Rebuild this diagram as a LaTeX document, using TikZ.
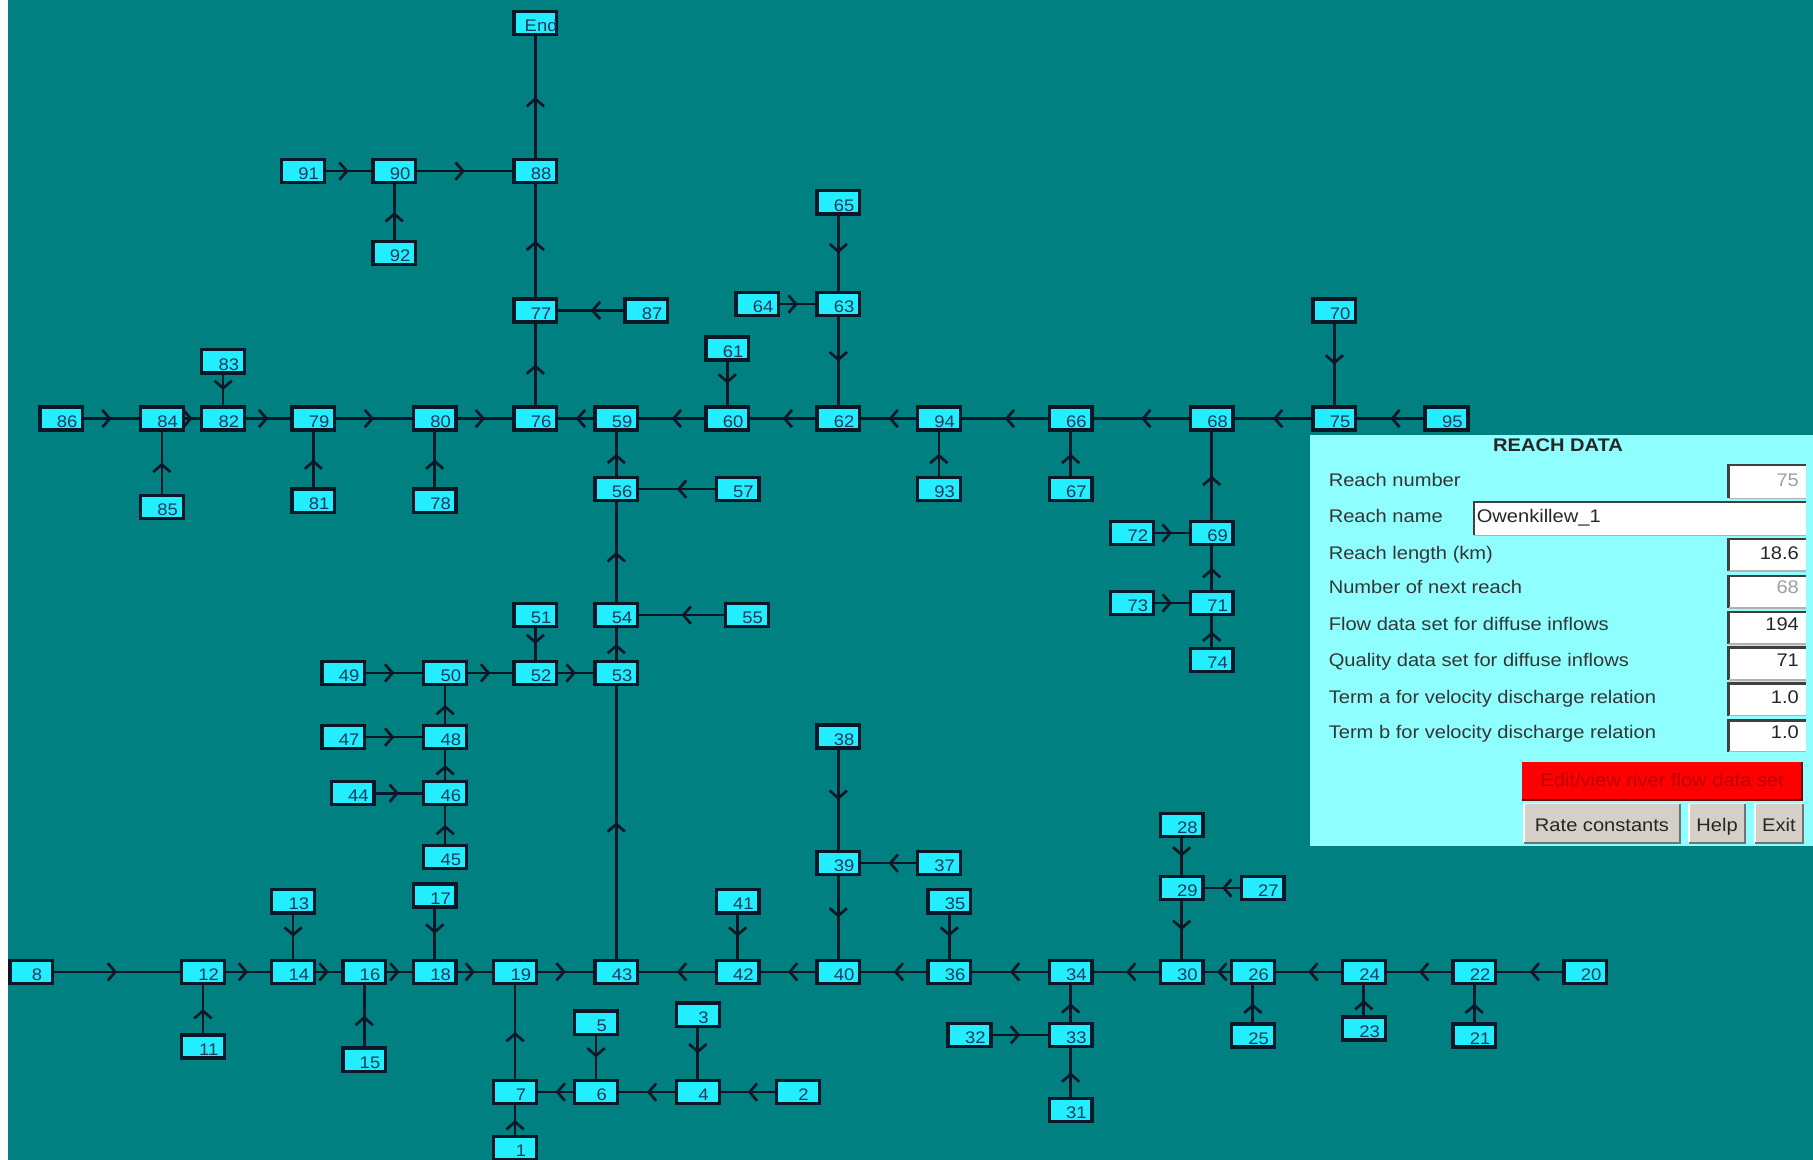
\documentclass[tikz,border=0pt]{standalone}
\usepackage{fontspec}
\setmainfont{Liberation Sans}
\newfontfamily\uif[FakeStretch=1.1]{Liberation Sans}
\usetikzlibrary{arrows.meta,decorations.markings}
\definecolor{bgc}{HTML}{008080}
\definecolor{boxc}{HTML}{22EEFF}
\definecolor{edgec}{HTML}{0B1626}
\definecolor{numc}{HTML}{1E3A5A}
\definecolor{panelc}{HTML}{8EFEFE}
\definecolor{lblc}{HTML}{353535}
\definecolor{disc}{HTML}{A0A0A0}
\definecolor{btnc}{HTML}{D4D0C8}
\definecolor{redtc}{HTML}{B80000}
\newcommand\nlab[1]{\makebox[0pt]{\hspace*{10pt}#1}}
\begin{document}
\begin{tikzpicture}[x=1pt,y=-1pt,
  rb/.style={draw=edgec, fill=boxc, line width=2.9pt, minimum width=37pt, minimum height=20pt,
    inner sep=0pt, text height=15pt, text depth=0pt,
    font={\uif\fontsize{14.5}{16}\selectfont}, text=numc},
  flow/.style={draw=edgec, line width=2.3pt, postaction={decorate},
    decoration={markings, mark=at position 0.5 with {\arrow{Straight Barb[length=6.5pt,width=15pt,line width=2.3pt]}}}},
  lbl/.style={anchor=base west, inner sep=0pt, text=lblc, font={\uif\fontsize{15.8}{18}\selectfont}},
  val/.style={anchor=base east, inner sep=0pt, text=black!85, font={\uif\fontsize{15.8}{18}\selectfont}},
  btxt/.style={anchor=base, inner sep=0pt, text=black!85, font={\uif\fontsize{15.8}{18}\selectfont}},
]
\useasboundingbox (0,0) rectangle (1568,1003);
\fill[bgc] (0,0) rectangle (1568,1003);
\fill[white] (0,0) rectangle (7,1003);

% ---------- nodes ----------
\node[rb] (nEnd) at (463,20) {\nlab{End}};
\node[rb] (n88) at (463,148) {\nlab{88}};
\node[rb] (n91) at (262,148) {\nlab{91}};
\node[rb] (n90) at (341,148) {\nlab{90}};
\node[rb] (n92) at (341,219) {\nlab{92}};
\node[rb] (n77) at (463,268.5) {\nlab{77}};
\node[rb] (n87) at (559,268.5) {\nlab{87}};
\node[rb] (n65) at (725,175) {\nlab{65}};
\node[rb] (n63) at (725,263) {\nlab{63}};
\node[rb] (n64) at (655,263) {\nlab{64}};
\node[rb] (n61) at (629,301.5) {\nlab{61}};
\node[rb] (n83) at (193,312.5) {\nlab{83}};
\node[rb] (n70) at (1154,268.5) {\nlab{70}};
% main row
\node[rb] (n86) at (53,362) {\nlab{86}};
\node[rb] (n84) at (140,362) {\nlab{84}};
\node[rb] (n82) at (193,362) {\nlab{82}};
\node[rb] (n79) at (271,362) {\nlab{79}};
\node[rb] (n80) at (376,362) {\nlab{80}};
\node[rb] (n76) at (463,362) {\nlab{76}};
\node[rb] (n59) at (533,362) {\nlab{59}};
\node[rb] (n60) at (629,362) {\nlab{60}};
\node[rb] (n62) at (725,362) {\nlab{62}};
\node[rb] (n94) at (812,362) {\nlab{94}};
\node[rb] (n66) at (926,362) {\nlab{66}};
\node[rb] (n68) at (1048,362) {\nlab{68}};
\node[rb] (n75) at (1154,362) {\nlab{75}};
\node[rb] (n95) at (1251,362) {\nlab{95}};
% below main row
\node[rb] (n85) at (140,438.5) {\nlab{85}};
\node[rb] (n81) at (271,433) {\nlab{81}};
\node[rb] (n78) at (376,433) {\nlab{78}};
\node[rb] (n56) at (533,423) {\nlab{56}};
\node[rb] (n57) at (638,423) {\nlab{57}};
\node[rb] (n93) at (812,423) {\nlab{93}};
\node[rb] (n67) at (926,423) {\nlab{67}};
\node[rb] (n72) at (979,461) {\nlab{72}};
\node[rb] (n69) at (1048,461) {\nlab{69}};
\node[rb] (n73) at (979,521.5) {\nlab{73}};
\node[rb] (n71) at (1048,521.5) {\nlab{71}};
\node[rb] (n74) at (1048,571) {\nlab{74}};
\node[rb] (n51) at (463,532) {\nlab{51}};
\node[rb] (n54) at (533,532) {\nlab{54}};
\node[rb] (n55) at (646,532) {\nlab{55}};
\node[rb] (n49) at (297,582) {\nlab{49}};
\node[rb] (n50) at (385,582) {\nlab{50}};
\node[rb] (n52) at (463,582) {\nlab{52}};
\node[rb] (n53) at (533,582) {\nlab{53}};
\node[rb] (n47) at (297,637.5) {\nlab{47}};
\node[rb] (n48) at (385,637.5) {\nlab{48}};
\node[rb] (n44) at (305,686) {\nlab{44}};
\node[rb] (n46) at (385,686) {\nlab{46}};
\node[rb] (n45) at (385,741) {\nlab{45}};
\node[rb] (n38) at (725,637) {\nlab{38}};
\node[rb] (n39) at (725,746.5) {\nlab{39}};
\node[rb] (n37) at (812,746.5) {\nlab{37}};
\node[rb] (n28) at (1022,713.5) {\nlab{28}};
\node[rb] (n29) at (1022,768) {\nlab{29}};
\node[rb] (n27) at (1092,768) {\nlab{27}};
\node[rb] (n13) at (253.5,779.5) {\nlab{13}};
\node[rb] (n17) at (376,774.5) {\nlab{17}};
\node[rb] (n41) at (638,779.5) {\nlab{41}};
\node[rb] (n35) at (821,779.5) {\nlab{35}};
% bottom row
\node[rb] (n8) at (27,840.5) {\nlab{8}};
\node[rb] (n12) at (175.5,840.5) {\nlab{12}};
\node[rb] (n14) at (253.5,840.5) {\nlab{14}};
\node[rb] (n16) at (315,840.5) {\nlab{16}};
\node[rb] (n18) at (376,840.5) {\nlab{18}};
\node[rb] (n19) at (445.5,840.5) {\nlab{19}};
\node[rb] (n43) at (533,840.5) {\nlab{43}};
\node[rb] (n42) at (638,840.5) {\nlab{42}};
\node[rb] (n40) at (725,840.5) {\nlab{40}};
\node[rb] (n36) at (821,840.5) {\nlab{36}};
\node[rb] (n34) at (926,840.5) {\nlab{34}};
\node[rb] (n30) at (1022,840.5) {\nlab{30}};
\node[rb] (n26) at (1083.5,840.5) {\nlab{26}};
\node[rb] (n24) at (1179.5,840.5) {\nlab{24}};
\node[rb] (n22) at (1275,840.5) {\nlab{22}};
\node[rb] (n20) at (1371,840.5) {\nlab{20}};
% below bottom row
\node[rb] (n11) at (175.5,905) {\nlab{11}};
\node[rb] (n15) at (315,916.5) {\nlab{15}};
\node[rb] (n5) at (515.5,884.5) {\nlab{5}};
\node[rb] (n3) at (603.5,877.5) {\nlab{3}};
\node[rb] (n7) at (445.5,944.5) {\nlab{7}};
\node[rb] (n6) at (515.5,944.5) {\nlab{6}};
\node[rb] (n4) at (603.5,944.5) {\nlab{4}};
\node[rb] (n2) at (690,944.5) {\nlab{2}};
\node[rb] (n1) at (445.5,993) {\nlab{1}};
\node[rb] (n32) at (838.5,895) {\nlab{32}};
\node[rb] (n33) at (926,895) {\nlab{33}};
\node[rb] (n31) at (926,960) {\nlab{31}};
\node[rb] (n25) at (1083.5,895.5) {\nlab{25}};
\node[rb] (n23) at (1179.5,889.5) {\nlab{23}};
\node[rb] (n21) at (1275,895.5) {\nlab{21}};

% ---------- connectors (source -> target) ----------
\foreach \a/\b in {88/End,91/90,90/88,92/90,77/88,87/77,76/77,
  86/84,84/82,83/82,82/79,85/84,79/80,81/79,80/76,78/80,
  59/76,56/59,57/56,54/56,55/54,53/54,43/53,52/53,51/52,50/52,49/50,48/50,47/48,46/48,44/46,45/46,
  60/59,61/60,62/60,63/62,65/63,64/63,
  94/62,93/94,66/94,67/66,68/66,69/68,72/69,71/69,73/71,74/71,75/68,70/75,95/75,
  8/12,11/12,12/14,13/14,14/16,15/16,16/18,17/18,18/19,19/43,7/19,1/7,6/7,5/6,4/6,3/4,2/4,
  42/43,41/42,40/42,39/40,38/39,37/39,36/40,35/36,34/36,33/34,32/33,31/33,30/34,29/30,28/29,27/29,
  26/30,25/26,24/26,23/24,22/24,21/22,20/22}
  \draw[flow] (n\a) -- (n\b);

% ---------- REACH DATA panel ----------
\fill[panelc] (1133,376) rectangle (1568,732);
\node[anchor=base, inner sep=0pt, text=black!85, font={\uif\fontsize{15.8}{18}\selectfont\bfseries}] (title) at (1347.5,390.5) {REACH DATA};

% input fields
\foreach \ya/\yb in {402/431,466/494,498/526,529/557,560/588,591/619,623/650}{
  \fill[white] (1495,\ya) rectangle (1562,\yb);
  \draw[black!75, line width=2pt] (1495,\yb) -- (1495,\ya) -- (1562,\ya);
  \draw[black!30, line width=1.2pt] (1495,\yb) -- (1562,\yb);
}
\fill[white] (1274.5,434) rectangle (1562,463);
\draw[black!75, line width=2pt] (1274.5,463) -- (1274.5,434) -- (1562,434);
\draw[black!30, line width=1.2pt] (1274.5,463) -- (1562,463);

\node[lbl] (l1) at (1149,420.5) {Reach number};
\node[lbl] (l2) at (1149,451.5) {Reach name};
\node[lbl] (l3) at (1149,483.5) {Reach length (km)};
\node[lbl] (l4) at (1149,513.5) {Number of next reach};
\node[lbl] (l5) at (1149,545.5) {Flow data set for diffuse inflows};
\node[lbl] (l6) at (1149,576.5) {Quality data set for diffuse inflows};
\node[lbl] (l7) at (1149,608) {Term a for velocity discharge relation};
\node[lbl] (l8) at (1149,639) {Term b for velocity discharge relation};

\node[val, text=disc] (v1) at (1556,420.5) {75};
\node[lbl, text=black!85] (v2) at (1277,451.5) {Owenkillew\_1};
\node[val] (v3) at (1556,483.5) {18.6};
\node[val, text=disc] (v4) at (1556,513.5) {68};
\node[val] (v5) at (1556,545.5) {194};
\node[val] (v6) at (1556,576.5) {71};
\node[val] (v7) at (1556,608) {1.0};
\node[val] (v8) at (1556,639) {1.0};

% red button
\fill[red] (1316,659) rectangle (1558.5,692);
\draw[red!50!black, line width=1.2pt] (1316,692) -- (1558.5,692) -- (1558.5,659);
\node[btxt, text=redtc] (bred) at (1437.5,680) {Edit/view river flow data set};

% grey buttons
\foreach \xa/\xb in {1318/1453,1461/1509,1518/1559}{
  \fill[btnc] (\xa,695) rectangle (\xb,729);
  \draw[white, line width=1.5pt] (\xa,729) -- (\xa,695) -- (\xb,695);
  \draw[black!55, line width=1.8pt] (\xa,729) -- (\xb,729) -- (\xb,695);
}
\node[btxt] (brate) at (1385.5,719) {Rate constants};
\node[btxt] (bhelp) at (1485,719) {Help};
\node[btxt] (bexit) at (1538.5,719) {Exit};
\end{tikzpicture}
\end{document}
